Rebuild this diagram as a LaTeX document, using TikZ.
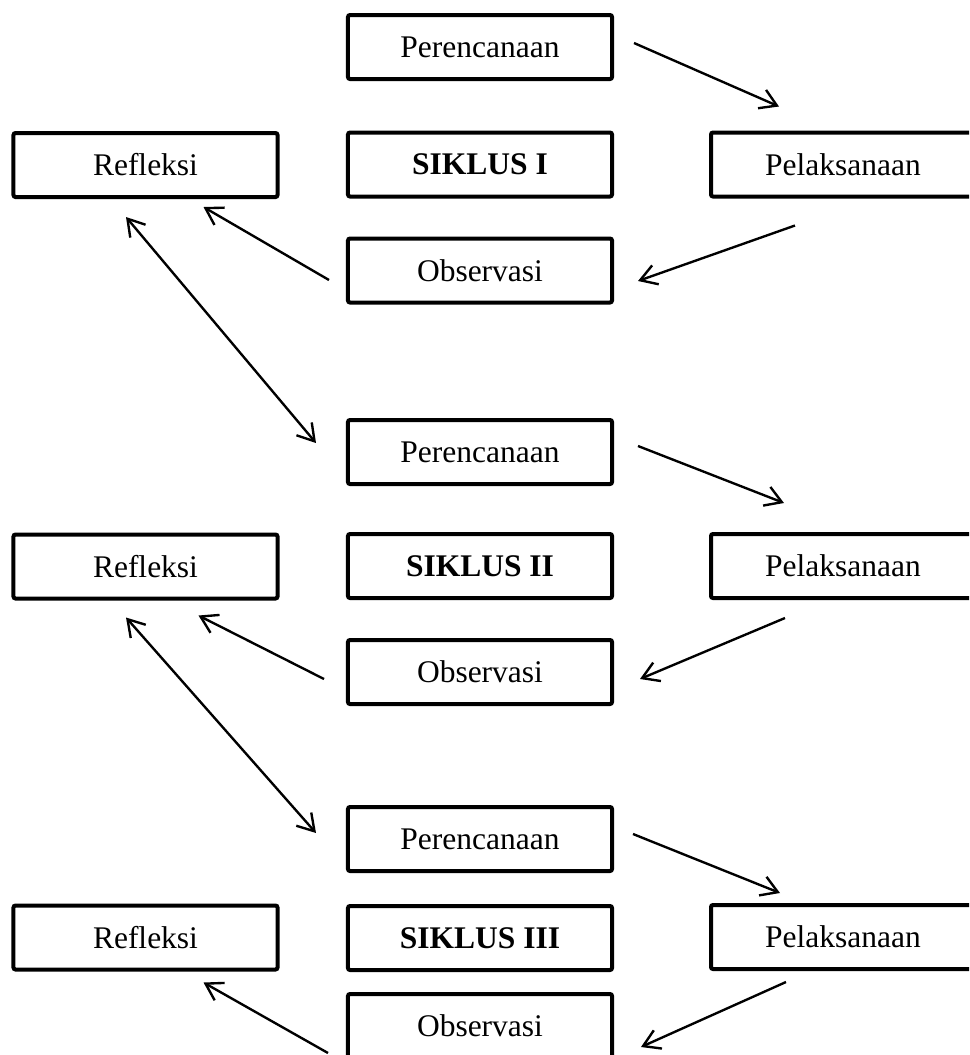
\documentclass[tikz,border=0pt]{standalone}
\usepackage{fontspec}
\setmainfont{Liberation Serif}
\usetikzlibrary{arrows.meta,calc}

\begin{document}
\begin{tikzpicture}[x=0.4pt,y=-0.4pt,>={Straight Barb[length=6.5pt,width=8pt]},
  box/.style={draw,line width=1.6pt,rounded corners=0.8pt,minimum width=105.6pt,minimum height=25.6pt,inner sep=0pt,font=\fontsize{12.6}{15}\selectfont},
  arr/.style={line width=0.95pt,->}]
  \useasboundingbox (0,0) rectangle (969,1055);
  \clip (0,0) rectangle (969,1055);
  \node[box] (Per1) at (480,47) {Perencanaan};
  \node[box] (Sik1) at (480,164.5) {\textbf{SIKLUS I}};
  \node[box] (Obs1) at (480,270.5) {Observasi};
  \node[box] (Ref1) at (145.5,165) {Refleksi};
  \node[box] (Pel1) at (843,164.5) {Pelaksanaan};
  \node[box] (Per2) at (480,452) {Perencanaan};
  \node[box] (Sik2) at (480,566) {\textbf{SIKLUS II}};
  \node[box] (Obs2) at (480,672) {Observasi};
  \node[box] (Ref2) at (145.5,566.5) {Refleksi};
  \node[box] (Pel2) at (843,566) {Pelaksanaan};
  \node[box] (Per3) at (480,839) {Perencanaan};
  \node[box] (Sik3) at (480,938) {\textbf{SIKLUS III}};
  \node[box] (Obs3) at (480,1026) {Observasi};
  \node[box] (Ref3) at (145.5,937.5) {Refleksi};
  \node[box] (Pel3) at (843,937) {Pelaksanaan};
  \draw[arr] ($(Per1.east)+(20,-4)$) -- ($(Pel1.north west)+(70,-24)$);
  \draw[arr] ($(Pel1.south west)+(86,27)$) -- ($(Obs1.east)+(24,10.5)$);
  \draw[arr] ($(Obs1.west)+(-17,9.5)$) -- ($(Ref1.south east)+(-76,8)$);
  \draw[arr,<->] ($(Ref1.south)+(-19.5,18)$) -- ($(Per2.west)+(-30,-9)$);
  \draw[arr] ($(Per2.east)+(24,-6)$) -- ($(Pel2.north west)+(75,-29)$);
  \draw[arr] ($(Pel2.south west)+(76,18)$) -- ($(Obs2.east)+(26,7)$);
  \draw[arr] ($(Obs2.west)+(-22,7)$) -- ($(Ref2.south east)+(-81,15)$);
  \draw[arr,<->] ($(Ref2.south)+(-19.5,17)$) -- ($(Per3.west)+(-30,-6)$);
  \draw[arr] ($(Per3.east)+(19,-5)$) -- ($(Pel3.north west)+(71,-10)$);
  \draw[arr] ($(Pel3.south west)+(77,11)$) -- ($(Obs3.east)+(27,21)$);
  \draw[arr] ($(Obs3.west)+(-18,27)$) -- ($(Ref3.south east)+(-76,11)$);
\end{tikzpicture}
\end{document}
